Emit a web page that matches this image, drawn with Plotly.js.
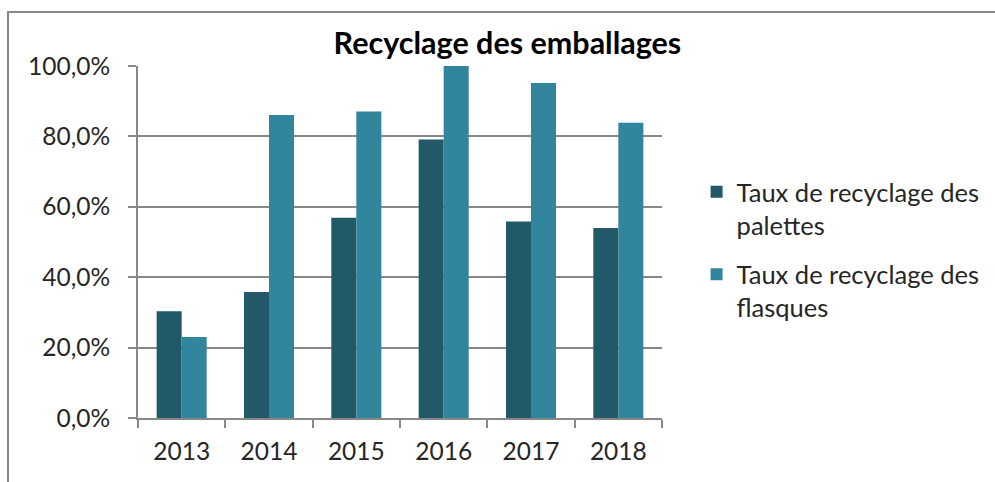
<!DOCTYPE html>
<html>
<head>
<meta charset="utf-8">
<script src="https://cdn.plot.ly/plotly-3.0.1.min.js"></script>
<style>
  html, body { margin: 0; padding: 0; background: #fff; }
  #wrap { position: relative; width: 995px; height: 482px; overflow: hidden; }
  #chart { position: absolute; left: 0; top: 0; width: 995px; height: 482px; }
  #frame { position: absolute; left: 7px; top: 11px; width: 1100px; height: 600px;
           border-left: 2px solid #888888; border-top: 2px solid #888888; pointer-events: none; }
</style>
</head>
<body>
<div id="wrap">
  <div id="chart"></div>
  <div id="frame"></div>
</div>
<script>
const years = ["2013", "2014", "2015", "2016", "2017", "2018"];
const palettes = [0.303, 0.358, 0.569, 0.791, 0.558, 0.540];
const flasques = [0.230, 0.861, 0.871, 1.000, 0.952, 0.839];
const seriesNames = ["Taux de recyclage des<br>palettes", "Taux de recyclage des<br>flasques"];
const colors = ["#215968", "#31859C"];
const yTicks = [0, 0.2, 0.4, 0.6, 0.8, 1.0];

const FONT = "Lato, 'Open Sans', sans-serif";

const data = [
  { type: "bar", x: years, y: palettes, name: seriesNames[0], legendgroup: "a",
    marker: { color: colors[0], line: { width: 0 } }, hoverinfo: "skip" },
  { type: "bar", x: years, y: flasques, name: seriesNames[1], legendgroup: "b",
    marker: { color: colors[1], line: { width: 0 } }, hoverinfo: "skip" }
];

const layout = {
  width: 995, height: 482,
  margin: { l: 138, r: 333, t: 66, b: 64, autoexpand: false },
  paper_bgcolor: "rgba(0,0,0,0)",
  plot_bgcolor: "rgba(0,0,0,0)",
  separators: ", ",
  barmode: "group",
  bargap: 0.427,
  bargroupgap: 0,
  font: { family: FONT, color: "#262626", size: 24 },
  title: {
    text: "<b>Recyclage des emballages</b>",
    font: { family: FONT, size: 30.5, color: "#000000" },
    x: 0.510, xanchor: "center", xref: "container",
    y: 1 - 43 / 482, yanchor: "middle", yref: "container"
  },
  xaxis: {
    type: "category",
    showline: true, linecolor: "#888888", linewidth: 2,
    ticks: "outside", tickson: "boundaries", ticklen: 8, tickwidth: 2, tickcolor: "#888888",
    showgrid: false, zeroline: false,
    tickfont: { family: FONT, size: 24.5, color: "#262626" },
    ticklabelstandoff: 11
  },
  yaxis: {
    range: [0, 1], tickvals: yTicks, tickformat: ".1%",
    showline: true, linecolor: "#888888", linewidth: 2,
    ticks: "outside", ticklen: 8, tickwidth: 2, tickcolor: "#888888",
    showgrid: true, gridcolor: "#888888", gridwidth: 2,
    zeroline: false,
    tickfont: { family: FONT, size: 24.5, color: "#262626" },
    ticklabelstandoff: 13
  },
  legend: {
    x: 1.066, xanchor: "left", y: 0.708, yanchor: "top",
    font: { family: FONT, size: 25.5, color: "#262626" },
    traceorder: "grouped", tracegroupgap: 13, valign: "top",
    bgcolor: "rgba(0,0,0,0)"
  },
  showlegend: true
};

Plotly.newPlot("chart", data, layout, { staticPlot: true, displayModeBar: false });
</script>
</body>
</html>
